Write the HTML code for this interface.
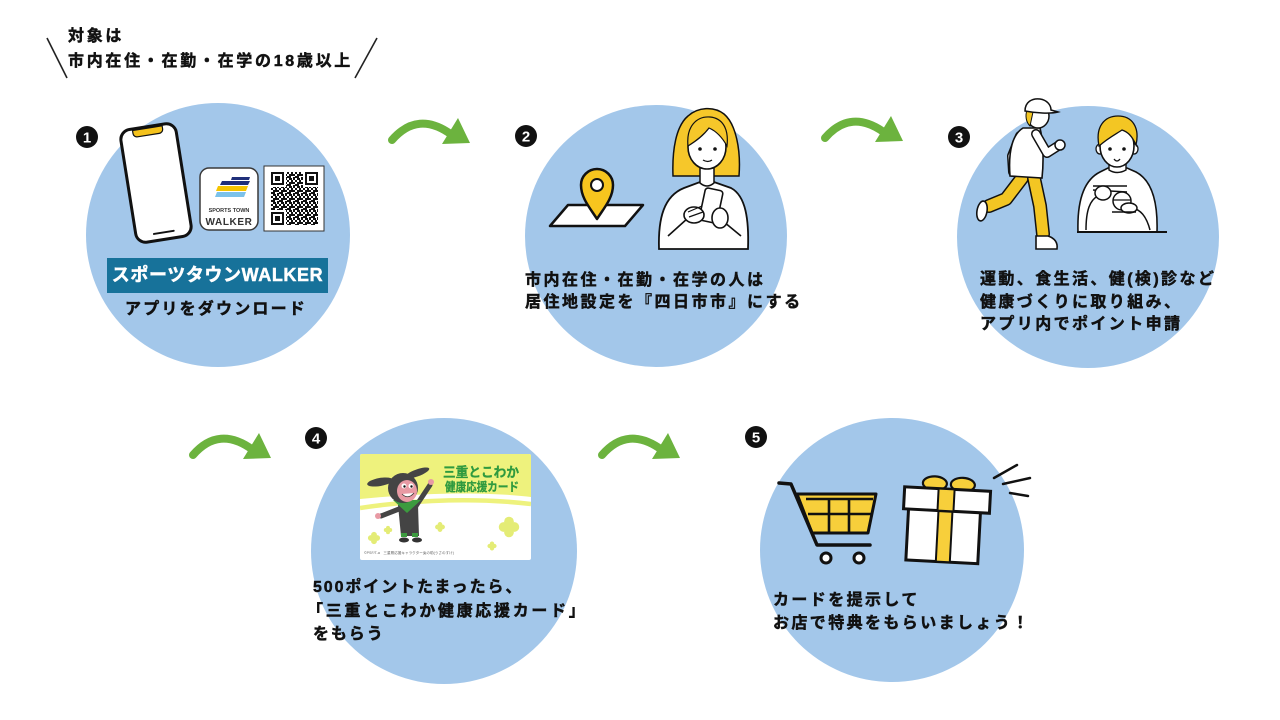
<!DOCTYPE html>
<html><head><meta charset="utf-8">
<style>
html,body{margin:0;padding:0;background:#fff;}
#c{position:relative;width:1280px;height:720px;overflow:hidden;background:#fff;}
svg{position:absolute;left:0;top:0;}
.t{position:absolute;font-family:"Liberation Sans","Noto Sans CJK JP",sans-serif;font-weight:700;font-size:16px;color:#111;white-space:nowrap;letter-spacing:2.5px;line-height:22px;-webkit-text-stroke:0.45px currentColor;}
</style></head><body><div id="c">
<svg width="1280" height="720" viewBox="0 0 1280 720" font-family="Liberation Sans, Noto Sans CJK JP, sans-serif">
<defs>
<g id="arr">
<path d="M0,0 Q26,-30 60,-5" fill="none" stroke="#6cb33e" stroke-width="8" stroke-linecap="round"/>
<polygon points="66,-22 78,3 50,4" fill="#6cb33e"/>
</g>
<pattern id="qr" x="271" y="172" width="8" height="8" patternUnits="userSpaceOnUse">
<rect x="0" y="0" width="2" height="2" fill="#111"/>
<rect x="4" y="0" width="2" height="4" fill="#111"/>
<rect x="2" y="2" width="2" height="2" fill="#111"/>
<rect x="6" y="2" width="2" height="2" fill="#111"/>
<rect x="0" y="4" width="4" height="2" fill="#111"/>
<rect x="6" y="5" width="2" height="3" fill="#111"/>
<rect x="2" y="6" width="2" height="2" fill="#111"/>
<rect x="4" y="6" width="1" height="2" fill="#111"/>
</pattern>
<clipPath id="cardclip"><rect x="360" y="454" width="171" height="106" rx="2"/></clipPath>
<g id="clv">
<circle cx="0" cy="-4" r="3.6"/><circle cx="0" cy="4" r="3.6"/><circle cx="-4" cy="0" r="3.6"/><circle cx="4" cy="0" r="3.6"/><circle cx="0" cy="0" r="3"/>
</g>
</defs>

<!-- header slashes -->
<line x1="47" y1="38" x2="67" y2="78" stroke="#222" stroke-width="1.6"/>
<line x1="377" y1="38" x2="355" y2="78" stroke="#222" stroke-width="1.6"/>

<!-- circles -->
<g fill="#a3c7ea">
<circle cx="218" cy="235" r="132"/>
<circle cx="656" cy="236" r="131"/>
<circle cx="1088" cy="237" r="131"/>
<circle cx="444" cy="551" r="133"/>
<circle cx="892" cy="550" r="132"/>
</g>

<!-- arrows -->
<use href="#arr" transform="translate(392,140)"/>
<use href="#arr" transform="translate(825,138)"/>
<use href="#arr" transform="translate(193,455)"/>
<use href="#arr" transform="translate(602,455)"/>

<!-- number badges -->
<g font-weight="700" font-size="15" fill="#fff" text-anchor="middle">
<circle cx="87" cy="137" r="11" fill="#111"/><text x="87" y="142.5">1</text>
<circle cx="526" cy="136" r="11" fill="#111"/><text x="526" y="141.5">2</text>
<circle cx="959" cy="137" r="11" fill="#111"/><text x="959" y="142.5">3</text>
<circle cx="316" cy="438" r="11" fill="#111"/><text x="316" y="443.5">4</text>
<circle cx="756" cy="437" r="11" fill="#111"/><text x="756" y="442.5">5</text>
</g>

<!-- ===== circle 1 ===== -->
<g transform="translate(156,183) rotate(-9)">
<rect x="-28" y="-57" width="56" height="114" rx="10" fill="#fff" stroke="#111" stroke-width="3"/>
<path d="M-15,-55.5 h30 v3 a4,4 0 0 1 -4,4 h-22 a4,4 0 0 1 -4,-4 z" fill="#f4c21c" stroke="#111" stroke-width="1.2"/>
<line x1="-10" y1="50" x2="10" y2="50" stroke="#111" stroke-width="2" stroke-linecap="round"/>
</g>
<rect x="200" y="168" width="58" height="62" rx="9" fill="#fff" stroke="#3a3a3a" stroke-width="1.5"/>
<polygon points="232,177 250,177 249,180 231,180" fill="#1f2f7a"/>
<polygon points="222,181 250,181 248,185 220,185" fill="#1f2f7a"/>
<polygon points="218,186 248,186 246,191 216,191" fill="#f5c400"/>
<polygon points="217,192 246,192 244,197 215,197" fill="#7cc2ea"/>
<text x="229" y="212" font-size="5.5" font-weight="700" fill="#333" text-anchor="middle">SPORTS TOWN</text>
<text x="229" y="225" font-size="10" font-weight="700" fill="#333" text-anchor="middle" letter-spacing="0.6">WALKER</text>
<rect x="264" y="166" width="60" height="65" fill="#fff" stroke="#333" stroke-width="1"/>
<rect x="271" y="172" width="47" height="53" fill="url(#qr)"/>
<g>
<rect x="270" y="171" width="16" height="16" fill="#fff"/><rect x="271" y="172" width="13" height="13" fill="#111"/><rect x="273" y="174" width="9" height="9" fill="#fff"/><rect x="275" y="176" width="5" height="5" fill="#111"/>
<rect x="303" y="171" width="16" height="16" fill="#fff"/><rect x="305" y="172" width="13" height="13" fill="#111"/><rect x="307" y="174" width="9" height="9" fill="#fff"/><rect x="309" y="176" width="5" height="5" fill="#111"/>
<rect x="270" y="210" width="16" height="16" fill="#fff"/><rect x="271" y="212" width="13" height="13" fill="#111"/><rect x="273" y="214" width="9" height="9" fill="#fff"/><rect x="275" y="216" width="5" height="5" fill="#111"/>
</g>
<rect x="107" y="258" width="221" height="35" fill="#17729a"/>

<!-- ===== circle 2 ===== -->
<polygon points="568,205 643,205 625,226 550,226" fill="#fff" stroke="#111" stroke-width="2.5" stroke-linejoin="round"/>
<path d="M597,219 C590,208 581,198 581,185 A16,16 0 1,1 613,185 C613,198 604,208 597,219 Z" fill="#f7c51e" stroke="#111" stroke-width="2.5" stroke-linejoin="round"/>
<circle cx="597" cy="185" r="6" fill="#fff" stroke="#111" stroke-width="2"/>
<!-- woman -->
<path d="M688,116 C676,126 672,150 673,176 L739,176 C741,150 736,124 724,114 C714,106 698,107 688,116 Z" fill="#f6c72a" stroke="#111" stroke-width="1.5"/>
<path d="M659,249 C658,218 664,196 684,188 L700,182 L714,182 L731,188 C746,196 749,220 748,249 Z" fill="#fff" stroke="#111" stroke-width="1.8"/>
<path d="M700,164 L700,183 Q707,189 714,183 L714,164" fill="#fff" stroke="#111" stroke-width="1.5"/>
<ellipse cx="707" cy="147" rx="19" ry="22" fill="#fff" stroke="#111" stroke-width="1.6"/>
<path d="M688,146 C686,126 697,116 710,117 C722,118 729,128 727,146 C722,137 716,131 709,128 C703,136 696,141 688,146 Z" fill="#f6c72a" stroke="#111" stroke-width="1.2"/>
<circle cx="700" cy="149" r="1.8" fill="#111"/><circle cx="715" cy="149" r="1.8" fill="#111"/>
<path d="M703,160 Q708,163 712,160" fill="none" stroke="#111" stroke-width="1.3"/>
<path d="M668,236 L688,218 M741,236 L724,222" stroke="#111" stroke-width="1.6" fill="none"/>
<g transform="translate(711,206) rotate(12)"><rect x="-9" y="-17" width="18" height="33" rx="3" fill="#fff" stroke="#111" stroke-width="1.6"/></g>
<ellipse cx="694" cy="215" rx="10" ry="8" fill="#fff" stroke="#111" stroke-width="1.6"/>
<ellipse cx="720" cy="218" rx="8" ry="10" fill="#fff" stroke="#111" stroke-width="1.6"/>
<path d="M688,212 L702,206 M689,217 L703,212" stroke="#111" stroke-width="1.2"/>

<!-- ===== circle 3 ===== -->
<!-- runner -->
<path d="M1020,136 L1012,156 L1013,172" fill="none" stroke="#111" stroke-width="10" stroke-linecap="round" stroke-linejoin="round"/>
<path d="M1020,136 L1012,156 L1013,172" fill="none" stroke="#fff" stroke-width="7" stroke-linecap="round" stroke-linejoin="round"/>
<path d="M1022,178 L1006,199 L989,206" fill="none" stroke="#111" stroke-width="14" stroke-linecap="round" stroke-linejoin="round"/>
<path d="M1022,178 L1006,199 L989,206" fill="none" stroke="#f3c623" stroke-width="11" stroke-linecap="round" stroke-linejoin="round"/>
<ellipse cx="982" cy="211" rx="5" ry="10" transform="rotate(10 982 211)" fill="#fff" stroke="#111" stroke-width="1.6"/>
<path d="M1034,178 L1040,206 L1043,234" fill="none" stroke="#111" stroke-width="14" stroke-linecap="round" stroke-linejoin="round"/>
<path d="M1034,178 L1040,206 L1043,234" fill="none" stroke="#f3c623" stroke-width="11" stroke-linecap="round" stroke-linejoin="round"/>
<path d="M1036,236 L1048,236 C1054,238 1058,242 1057,249 L1036,249 Z" fill="#fff" stroke="#111" stroke-width="1.6"/>
<path d="M1023,128 C1013,134 1008,150 1010,176 L1042,178 C1044,160 1043,140 1040,128 Z" fill="#fff" stroke="#111" stroke-width="1.6"/>
<path d="M1036,134 L1047,153 L1058,146" fill="none" stroke="#111" stroke-width="10" stroke-linecap="round" stroke-linejoin="round"/>
<path d="M1036,134 L1047,153 L1058,146" fill="none" stroke="#fff" stroke-width="7" stroke-linecap="round" stroke-linejoin="round"/>
<circle cx="1060" cy="145" r="5" fill="#fff" stroke="#111" stroke-width="1.5"/>
<ellipse cx="1038" cy="116" rx="11" ry="12" fill="#fff" stroke="#111" stroke-width="1.5"/>
<path d="M1027,110 C1025,116 1026,122 1030,126 L1033,112 Z" fill="#f3c623" stroke="#111" stroke-width="1"/>
<path d="M1025,111 C1025,102 1032,98 1040,99 C1047,100 1051,105 1051,110 L1058,112 C1050,114 1035,113 1025,111 Z" fill="#fff" stroke="#111" stroke-width="1.5"/>
<!-- boy -->
<path d="M1078,232 C1077,200 1084,180 1100,172 L1108,168 L1127,168 L1136,172 C1151,180 1158,200 1157,232 Z" fill="#fff" stroke="#111" stroke-width="1.6"/>
<path d="M1109,160 L1109,170 Q1117,175 1126,170 L1126,160" fill="#fff" stroke="#111" stroke-width="1.4"/>
<ellipse cx="1100" cy="149" rx="4" ry="5" fill="#fff" stroke="#111" stroke-width="1.3"/>
<ellipse cx="1134" cy="149" rx="4" ry="5" fill="#fff" stroke="#111" stroke-width="1.3"/>
<ellipse cx="1117" cy="146" rx="17" ry="21" fill="#fff" stroke="#111" stroke-width="1.6"/>
<path d="M1099,146 C1095,126 1105,116 1118,116 C1132,116 1140,127 1136,145 C1132,136 1128,132 1122,130 C1116,134 1108,138 1099,146 Z" fill="#f3c623" stroke="#111" stroke-width="1.3"/>
<circle cx="1110" cy="149" r="1.8" fill="#111"/><circle cx="1124" cy="149" r="1.8" fill="#111"/>
<path d="M1114,159 Q1117,163 1120,159" fill="none" stroke="#111" stroke-width="1.3"/>
<path d="M1086,230 C1086,210 1090,200 1098,196" fill="none" stroke="#111" stroke-width="1.5"/>
<path d="M1150,230 C1146,215 1140,210 1133,208" fill="none" stroke="#111" stroke-width="1.5"/>
<line x1="1093" y1="186" x2="1127" y2="186" stroke="#111" stroke-width="1.5"/>
<line x1="1093" y1="190" x2="1127" y2="192" stroke="#111" stroke-width="1.5"/>
<ellipse cx="1103" cy="193" rx="8" ry="7" fill="#fff" stroke="#111" stroke-width="1.5"/>
<circle cx="1122" cy="201" r="9" fill="#fff" stroke="#111" stroke-width="1.5"/>
<line x1="1113" y1="200" x2="1131" y2="200" stroke="#111" stroke-width="1.2"/>
<ellipse cx="1129" cy="208" rx="8" ry="5" fill="#fff" stroke="#111" stroke-width="1.5"/>
<line x1="1112" y1="212" x2="1136" y2="212" stroke="#111" stroke-width="1.5"/>
<line x1="1077" y1="232" x2="1167" y2="232" stroke="#111" stroke-width="2"/>

<!-- ===== circle 4 card ===== -->
<g clip-path="url(#cardclip)">
<rect x="360" y="454" width="171" height="106" fill="#fff"/>
<path d="M360,454 H531 V497 C490,492 430,492 360,499 Z" fill="#eef27d"/>
<path d="M360,508 C420,499 480,498 531,504" fill="none" stroke="#eef27d" stroke-width="4.5"/>
<g fill="#e4ec76">
<use href="#clv" transform="translate(509,527) scale(1.35)"/>
<use href="#clv" transform="translate(440,527) scale(0.65)"/>
<use href="#clv" transform="translate(388,530) scale(0.55)"/>
<use href="#clv" transform="translate(374,538) scale(0.8)"/>
<use href="#clv" transform="translate(492,546) scale(0.6)"/>
</g>
<text x="443" y="477" font-size="13.5" font-weight="700" fill="#2f9a3f" stroke="#2f9a3f" stroke-width="0.3" textLength="76" lengthAdjust="spacingAndGlyphs">三重とこわか</text>
<text x="445" y="491" font-size="12" font-weight="700" fill="#2f9a3f" stroke="#2f9a3f" stroke-width="0.3" textLength="74" lengthAdjust="spacingAndGlyphs">健康応援カード</text>
<!-- character -->
<ellipse cx="380" cy="482" rx="13" ry="4" transform="rotate(-10 380 482)" fill="#444"/>
<ellipse cx="417" cy="473" rx="13" ry="3.5" transform="rotate(-20 417 473)" fill="#444"/>
<line x1="416" y1="506" x2="430" y2="485" stroke="#444" stroke-width="5" stroke-linecap="round"/>
<circle cx="431" cy="482" r="3" fill="#e89aa4"/>
<line x1="399" y1="509" x2="381" y2="516" stroke="#444" stroke-width="5" stroke-linecap="round"/>
<circle cx="378" cy="516" r="3" fill="#e89aa4"/>
<path d="M398,505 L418,505 L419,536 L401,536 Z" fill="#444"/>
<rect x="401" y="533" width="6" height="4" fill="#3c9b3f"/><rect x="412" y="533" width="6" height="4" fill="#3c9b3f"/>
<ellipse cx="404" cy="540" rx="5" ry="2.5" fill="#333"/><ellipse cx="417" cy="540" rx="5" ry="2.5" fill="#333"/>
<polygon points="393,500 421,500 407,513" fill="#3c9b3f"/>
<circle cx="403" cy="488" r="15" fill="#444"/>
<ellipse cx="407" cy="491" rx="10" ry="11" fill="#e89aa4"/>
<circle cx="404" cy="486" r="2.5" fill="#fff"/><circle cx="411" cy="486" r="2.5" fill="#fff"/>
<circle cx="404.5" cy="486.5" r="1.2" fill="#111"/><circle cx="411.5" cy="486.5" r="1.2" fill="#111"/>
<path d="M402,494 Q408,500 414,493" fill="#fff" stroke="#333" stroke-width="0.8"/>
<text x="364" y="554" font-size="3.6" fill="#666">©PSF/T-a　三重県応援キャラクター兎の助(うさのすけ)</text>
</g>

<!-- ===== circle 5 ===== -->
<polygon points="797,494 876,494 868,533 812,533" fill="#f7cf3b" stroke="#111" stroke-width="3" stroke-linejoin="round"/>
<path d="M806,499 L873,499 M829,499 L829,533 M849,499 L849,533 M808,514 L871,514" stroke="#111" stroke-width="2.6" fill="none"/>
<path d="M779,483 L791,484 L817,545 L870,545" fill="none" stroke="#111" stroke-width="3.5" stroke-linejoin="round" stroke-linecap="round"/>
<circle cx="826" cy="558" r="5" fill="#fff" stroke="#111" stroke-width="3"/>
<circle cx="859" cy="558" r="5" fill="#fff" stroke="#111" stroke-width="3"/>
<g transform="rotate(3 946 520)">
<ellipse cx="933" cy="484" rx="12" ry="7" fill="#f7cf3b" stroke="#111" stroke-width="2.2"/>
<ellipse cx="961" cy="484" rx="12" ry="7" fill="#f7cf3b" stroke="#111" stroke-width="2.2"/>
<rect x="908" y="510" width="72" height="52" fill="#fff" stroke="#111" stroke-width="3"/>
<rect x="938" y="510" width="14" height="52" fill="#f7cf3b" stroke="#111" stroke-width="2"/>
<rect x="903" y="489" width="86" height="22" fill="#fff" stroke="#111" stroke-width="3"/>
<rect x="937" y="489" width="16" height="22" fill="#f7cf3b" stroke="#111" stroke-width="2"/>
</g>
<g stroke="#111" stroke-width="2.5" stroke-linecap="round">
<line x1="994" y1="478" x2="1017" y2="465"/>
<line x1="1003" y1="484" x2="1030" y2="478"/>
<line x1="1010" y1="493" x2="1028" y2="496"/>
</g>
</svg>

<div class="t" style="left:68px;top:24px;line-height:25px;letter-spacing:2.7px;">対象は<br>市内在住・在勤・在学の18歳以上</div>

<div class="t" style="left:107px;top:258px;width:221px;text-align:center;line-height:35px;font-size:18px;letter-spacing:0.6px;color:#fff;">スポーツタウンWALKER</div>
<div class="t" style="left:125px;top:299px;letter-spacing:2.2px;">アプリをダウンロード</div>

<div class="t" style="left:525px;top:270px;">市内在住・在勤・在学の人は<br>居住地設定を『四日市市』にする</div>

<div class="t" style="left:980px;top:269px;line-height:22.5px;letter-spacing:2.4px;">運動、食生活、健(検)診など<br>健康づくりに取り組み、<br>アプリ内でポイント申請</div>

<div class="t" style="left:313px;top:576px;line-height:23.5px;letter-spacing:1.9px;">500ポイントたまったら、<br><span style="margin-left:-6px;letter-spacing:2.7px;">「三重とこわか健康応援カード」</span><br>をもらう</div>

<div class="t" style="left:773px;top:589px;line-height:23px;letter-spacing:2.4px;">カードを提示して<br>お店で特典をもらいましょう！</div>
</div></body></html>
